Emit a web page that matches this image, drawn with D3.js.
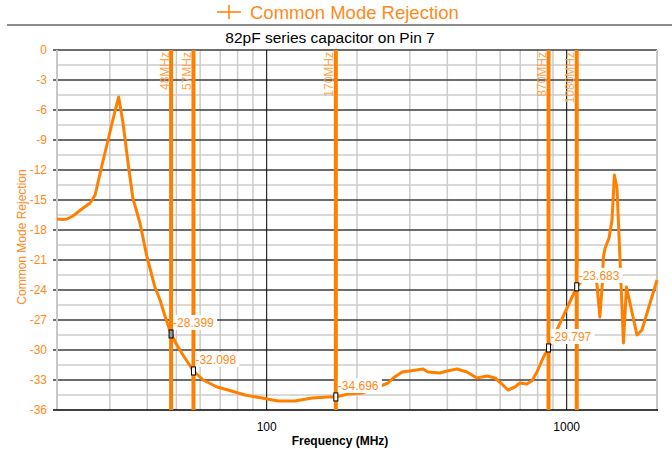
<!DOCTYPE html>
<html>
<head>
<meta charset="utf-8">
<script src="https://cdn.jsdelivr.net/npm/d3@7"></script>
<style>
  html, body { margin: 0; padding: 0; background: #fff; }
  svg { display: block; font-family: "Liberation Sans", Arial, sans-serif; }
</style>
</head>
<body>
<svg id="chart" width="672" height="449"></svg>
<script>
// ---------- data ----------
const freqs = [20, 20.9, 21.6, 22.6, 24.2, 25.8, 26.8, 28.0, 29.6, 30.7,
  32.1, 33.2, 34.5, 35.8, 37.8, 39.9, 42.4, 44.1, 45.8, 48,
  50.2, 52.6, 57, 61.4, 68.3, 74.3, 84.6, 96.4, 109, 124,
  142, 160, 170, 187, 208, 230, 254, 264, 283, 300,
  332, 345, 378, 399, 431, 465, 502, 543, 577, 608,
  637, 672, 698, 736, 765, 796, 834, 870, 1080, 1160,
  1245, 1262, 1290, 1315, 1325, 1343, 1384, 1416, 1442, 1471,
  1506, 1546, 1582, 1664, 1715, 1782, 1866, 2000];
const cmr = [-16.9, -16.95, -16.9, -16.6, -15.9, -15.3, -14.5, -12.0, -9.0, -7.0,
  -4.7, -7.3, -11.3, -14.8, -17.3, -20.7, -23.7, -25.0, -26.6, -28.4,
  -29.5, -30.5, -32.1, -33.0, -33.7, -34.0, -34.5, -34.8, -35.1, -35.1,
  -34.8, -34.7, -34.7, -34.4, -34.3, -33.8, -33.3, -32.8, -32.2, -32.1,
  -31.9, -32.2, -32.3, -32.1, -31.9, -32.2, -32.8, -32.6, -32.8, -33.4,
  -34.0, -33.7, -33.3, -33.4, -33.1, -32.2, -30.8, -29.8, -23.7, -22.6,
  -22.4, -23.5, -26.7, -23.3, -20.7, -19.8, -18.8, -17.0, -12.5, -13.8,
  -21.0, -29.3, -23.7, -26.7, -28.5, -28.0, -26.0, -23.0];

const markerFreqs = [48, 57, 170, 870, 1080];
const markerNames = ["48MHz", "57MHz", "170MHz", "870MHz", "1080MHz"];
const markerValues = [-28.399, -32.098, -34.696, -29.797, -23.683];

const yTicks = [0, -3, -6, -9, -12, -15, -18, -21, -24, -27, -30, -33, -36];
const yMinorTicks = [-1.5, -4.5, -7.5, -10.5, -13.5, -16.5, -19.5, -22.5, -25.5, -28.5, -31.5, -34.5];
const xMajorTicks = [100, 1000];
const xMinorTicks = [30, 40, 50, 60, 70, 80, 90, 200, 300, 400, 500, 600, 700, 800, 900];

const seriesName = "Common Mode Rejection";
const chartTitle = "82pF series capacitor on Pin 7";
const xTitle = "Frequency (MHz)";
const yTitle = "Common Mode Rejection";

// ---------- layout ----------
const W = 672, H = 449;
const L = 57, R = 657, T = 50, B = 410;
const ORANGE = "#ff8000";
const TXT = "#ff8a1a";

const svg = d3.select("#chart");
const x = d3.scaleLog().domain([20, 2000]).range([L, R]);
const y = d3.scaleLinear().domain([-36, 0]).range([B, T]);

// legend
const lg = svg.append("g");
lg.append("line").attr("x1", 217).attr("x2", 241).attr("y1", 12).attr("y2", 12)
  .attr("stroke", ORANGE).attr("stroke-width", 1.5);
lg.append("line").attr("x1", 229).attr("x2", 229).attr("y1", 5).attr("y2", 19)
  .attr("stroke", ORANGE).attr("stroke-width", 1.5);
lg.append("text").attr("x", 250).attr("y", 19).attr("font-size", 18.5)
  .attr("fill", TXT).text(seriesName);
svg.append("line").attr("x1", 7).attr("x2", W).attr("y1", 25).attr("y2", 25)
  .attr("stroke", "#8c8c8c").attr("stroke-width", 2);

// title
svg.append("text").attr("x", 330).attr("y", 43).attr("text-anchor", "middle")
  .attr("font-size", 15.5).attr("fill", "#000").text(chartTitle);

// gridlines
const grid = svg.append("g");
grid.selectAll(".hmin").data(yMinorTicks).enter().append("line")
  .attr("x1", L).attr("x2", R).attr("y1", d => y(d)).attr("y2", d => y(d))
  .attr("stroke", "#cccccc").attr("stroke-width", 1.5);
grid.selectAll(".vmin").data(xMinorTicks).enter().append("line")
  .attr("x1", d => x(d)).attr("x2", d => x(d)).attr("y1", T).attr("y2", B)
  .attr("stroke", "#cccccc").attr("stroke-width", 1.5);
grid.selectAll(".hmaj").data(yTicks.filter(d => d !== -36)).enter().append("line")
  .attr("x1", L - 4).attr("x2", R).attr("y1", d => y(d)).attr("y2", d => y(d))
  .attr("stroke", "#3c3c3c").attr("stroke-width", 1.5);
grid.selectAll(".vmaj").data(xMajorTicks).enter().append("line")
  .attr("x1", d => x(d)).attr("x2", d => x(d)).attr("y1", T).attr("y2", B)
  .attr("stroke", "#000").attr("stroke-width", 1);
// side borders
grid.append("line").attr("x1", L).attr("x2", L).attr("y1", T).attr("y2", B)
  .attr("stroke", "#c8c8c8").attr("stroke-width", 2);
grid.append("line").attr("x1", R).attr("x2", R).attr("y1", T).attr("y2", B)
  .attr("stroke", "#c8c8c8").attr("stroke-width", 2);
grid.append("line").attr("x1", L - 4).attr("x2", R + 1).attr("y1", B).attr("y2", B)
  .attr("stroke", "#000").attr("stroke-width", 1.5);

// y tick labels
svg.append("g").selectAll("text").data(yTicks).enter().append("text")
  .attr("x", 47).attr("y", d => y(d)).attr("dy", "0.35em").attr("text-anchor", "end")
  .attr("font-size", 12).attr("fill", TXT).text(d => d);
svg.append("text").attr("transform", "translate(26,237) rotate(-90)")
  .attr("text-anchor", "middle").attr("font-size", 12).attr("fill", TXT).text(yTitle);

// x tick labels
svg.append("g").selectAll("text").data(xMajorTicks).enter().append("text")
  .attr("x", d => x(d)).attr("y", 431).attr("text-anchor", "middle")
  .attr("font-size", 12).attr("fill", "#000").text(d => d);
svg.append("text").attr("x", 340).attr("y", 445).attr("text-anchor", "middle")
  .attr("font-size", 12).attr("font-weight", "bold").attr("fill", "#000").text(xTitle);

// curve
const pts = freqs.map((f, i) => [f, cmr[i]]);
svg.append("path").datum(pts)
  .attr("d", d3.line().x(d => x(d[0])).y(d => y(d[1])))
  .attr("fill", "none").attr("stroke", ORANGE).attr("stroke-width", 3)
  .attr("stroke-linejoin", "round");

// markers
const mk = svg.append("g");
markerFreqs.forEach((f, i) => {
  const mx = x(f);
  mk.append("line").attr("x1", mx).attr("x2", mx).attr("y1", T).attr("y2", B)
    .attr("stroke", ORANGE).attr("stroke-width", 4);
  mk.append("text").attr("transform", `translate(${mx - 2.5},${T + 2}) rotate(-90)`)
    .attr("text-anchor", "end").attr("font-size", 12).attr("fill", "#ffa550")
    .text(markerNames[i]);
});
markerFreqs.forEach((f, i) => {
  const mx = x(f), my = y(markerValues[i]);
  const t = mk.append("text").attr("x", mx + 2).attr("y", my - 7)
    .attr("font-size", 12).attr("fill", TXT).text(markerValues[i].toFixed(3));
  const bb = t.node().getBBox();
  mk.insert("rect", () => t.node()).attr("x", mx + 2).attr("y", my - 19)
    .attr("width", bb.width + 3).attr("height", 15).attr("fill", "#fff");
  mk.append("rect").attr("x", mx - 2).attr("y", my - 4).attr("width", 4).attr("height", 8)
    .attr("fill", i === 0 ? "#999" : "#fff").attr("stroke", "#000").attr("stroke-width", 1);
});
</script>
</body>
</html>
